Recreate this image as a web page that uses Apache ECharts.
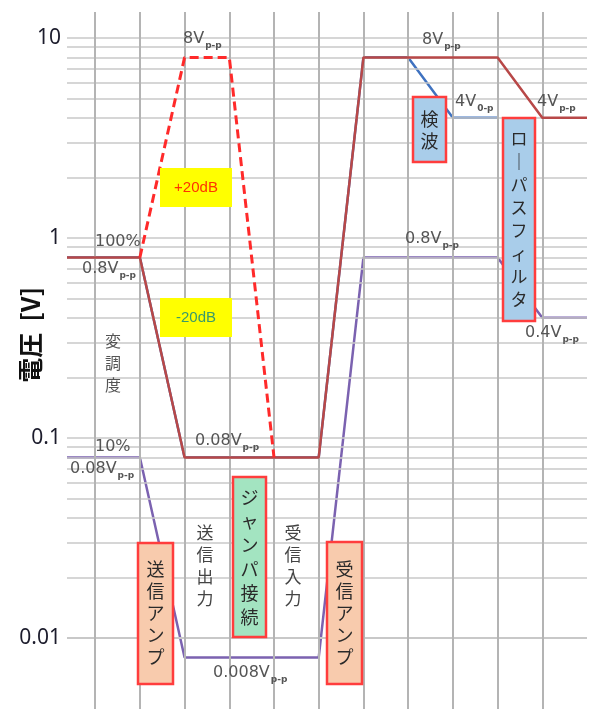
<!DOCTYPE html>
<html><head><meta charset="utf-8">
<script src="https://cdn.jsdelivr.net/npm/echarts@6/dist/echarts.min.js"></script>
<style>html,body{margin:0;padding:0;background:#fff}#c{width:589px;height:709px}</style>
</head><body><div id="c"></div>
<script>
// ---- data ----
const xMin = 0.37, xMax = 12;
const yMin = 0.00442, yMax = 13.5;
const stageX = [1, 2, 3, 4, 5, 6, 7, 8, 9, 10, 11];
const yTickLabels = ['0.01', '0.1', '1', '10'];
const gridYValues = [0.005, 0.006, 0.007, 0.008, 0.009, 0.01, 0.02, 0.03, 0.04, 0.05, 0.06, 0.07, 0.08, 0.09,
  0.1, 0.2, 0.3, 0.4, 0.5, 0.6, 0.7, 0.8, 0.9, 1, 2, 3, 4, 5, 6, 7, 8, 9, 10];
const redX = [0.37, 2, 3, 6, 7, 10, 11, 12];
const redY = [0.8, 0.8, 0.08, 0.08, 8, 8, 4, 4];
const purpleX = [0.37, 2, 3, 6, 7, 10, 11, 12];
const purpleY = [0.08, 0.08, 0.008, 0.008, 0.8, 0.8, 0.4, 0.4];
const blueX = [0.37, 2, 3, 6, 7, 8, 9, 10];
const blueY = [0.8, 0.8, 0.08, 0.08, 8, 8, 4, 4];
const dashX = [2, 3, 4, 5];
const dashY = [0.8, 8, 8, 0.08];

const zip = (xs, ys) => xs.map((x, i) => [x, ys[i]]);

const ctx = document.createElement('canvas').getContext('2d');
function textW(t, font) { ctx.font = font; return ctx.measureText(t).width; }

const LF = '16px "DejaVu Sans"';
const SF = 'bold 9px "DejaVu Sans"';
const LC = '#555';
function vlabel(x, cy, main, sub) {
  const els = [{ type: 'text', z: 50, style: { text: main, x: x, y: cy, font: LF, fill: LC, textAlign: 'left', textVerticalAlign: 'middle', align: 'left', verticalAlign: 'middle' } }];
  if (sub) {
    const w = textW(main, LF);
    els.push({ type: 'text', z: 50, style: { text: sub, x: x + w + 1, y: cy + 7, font: SF, fill: LC, textAlign: 'left', textVerticalAlign: 'middle', align: 'left', verticalAlign: 'middle' } });
  }
  return els;
}
const JP = '"Noto Sans CJK JP"';
function vtext(cx, cy, str, size, lh, color, weight) {
  return { type: 'text', z: 50, style: { text: str.split('').join('\n'), x: cx, y: cy, font: (weight || 'normal') + ' ' + size + 'px ' + JP, lineHeight: lh, fill: color, textAlign: 'center', textVerticalAlign: 'middle', align: 'center', verticalAlign: 'middle' } };
}
function box(x, y, w, h, fill, stroke) {
  return { type: 'rect', z: 40, shape: { x: x, y: y, width: w, height: h }, style: { fill: fill, stroke: stroke, lineWidth: stroke ? 2.5 : 0 } };
}
const ORANGE = '#f8cbad', GREEN = '#a3e4c1', BLUE = '#a9cdea', RED = '#ff3d3d';

const graphics = [].concat(
  [{ type: 'text', z: 50, x: 30, y: 335, rotation: Math.PI / 2, style: { text: '電圧  [V]', x: 0, y: 0, font: 'bold 25px ' + JP, fill: '#111', textAlign: 'center', textVerticalAlign: 'middle', align: 'center', verticalAlign: 'middle' } }],
  vlabel(183, 39, '8V', 'p-p'),
  vlabel(95, 242, '100%'),
  vlabel(82, 269, '0.8V', 'p-p'),
  vlabel(95, 447, '10%'),
  vlabel(70, 469, '0.08V', 'p-p'),
  vlabel(195, 441, '0.08V', 'p-p'),
  vlabel(213, 673, '0.008V', 'p-p'),
  vlabel(422, 40, '8V', 'p-p'),
  vlabel(455, 102, '4V', '0-p'),
  vlabel(537, 102, '4V', 'p-p'),
  vlabel(405, 239, '0.8V', 'p-p'),
  vlabel(525, 333, '0.4V', 'p-p'),
  [
    box(160, 168, 72, 39, '#ffff00'),
    { type: 'text', z: 50, style: { text: '+20dB', x: 196, y: 188, font: '15px "Liberation Sans"', fill: '#ff3300', textAlign: 'center', textVerticalAlign: 'middle', align: 'center', verticalAlign: 'middle' } },
    box(160, 298, 72, 39, '#ffff00'),
    { type: 'text', z: 50, style: { text: '-20dB', x: 196, y: 318, font: '15px "Liberation Sans"', fill: '#3a9a6a', textAlign: 'center', textVerticalAlign: 'middle', align: 'center', verticalAlign: 'middle' } },
    vtext(113, 363, '変調度', 16, 22, '#555'),
    vtext(205, 566, '送信出力', 17, 22, '#444'),
    vtext(293, 566, '受信入力', 17, 22, '#444'),
    box(138, 543, 35, 141, ORANGE, RED),
    vtext(155.5, 613, '送信アンプ', 18, 22, '#2a2a2a'),
    box(233, 477, 33, 160, GREEN, RED),
    vtext(249.5, 557, 'ジャンパ接続', 18, 24, '#2a2a2a'),
    box(327, 542, 35, 142, ORANGE, RED),
    vtext(344.5, 613, '受信アンプ', 18, 22, '#2a2a2a'),
    box(413, 97, 33, 65, BLUE, RED),
    vtext(429.5, 130, '検波', 18, 22, '#2a2a2a'),
    box(503, 118, 32, 203, BLUE, RED),
    vtext(519, 219, 'ロ｜パスフィルタ', 17, 23, '#2a2a2a')
  ]
);

const chart = echarts.init(document.getElementById('c'), null, { renderer: 'canvas' });
const lineBase = { type: 'line', symbol: 'none', animation: false, silent: true };
chart.setOption({
  animation: false,
  grid: { left: 67, right: 2, top: 12, bottom: 0, containLabel: false },
  xAxis: { type: 'value', min: xMin, max: xMax, axisLine: { show: false }, axisTick: { show: false }, axisLabel: { show: false }, splitLine: { show: false } },
  yAxis: {
    type: 'log', logBase: 10, min: yMin, max: yMax,
    axisLine: { show: false }, axisTick: { show: false }, splitLine: { show: false },
    axisLabel: {
      showMinLabel: false, showMaxLabel: false, margin: 6, color: '#1c1c2c', fontSize: 21, fontFamily: 'Noto Sans',
      formatter: v => { const m = yTickLabels.find(l => Math.abs(parseFloat(l) - v) / v < 1e-6); return m || ''; }
    }
  },
  series: [
    Object.assign({}, lineBase, {
      name: 'grid', data: [], z: 1,
      markLine: {
        silent: true, symbol: ['none', 'none'], label: { show: false }, animation: false,
        data: gridYValues.map(v => ({ yAxis: v, lineStyle: { color: '#c8c8c8', width: 1.6, type: 'solid' } }))
          .concat(stageX.map(v => ({ xAxis: v, lineStyle: { color: '#b4b4b4', width: 2, type: 'solid' } })))
      }
    }),
    Object.assign({}, lineBase, { name: 'purple', z: 3, data: zip(purpleX, purpleY), lineStyle: { color: '#7b62b0', width: 2.5 } }),
    Object.assign({}, lineBase, { name: 'blue', z: 4, data: zip(blueX, blueY), lineStyle: { color: '#3f72c0', width: 2.5 } }),
    Object.assign({}, lineBase, { name: 'red', z: 5, data: zip(redX, redY), lineStyle: { color: '#b84848', width: 2.5 } }),
    Object.assign({}, lineBase, { name: 'dash', z: 6, data: zip(dashX, dashY), lineStyle: { color: '#ff2a2a', width: 3, type: [9, 5] } })
  ],
  graphic: graphics
});
</script>
</body></html>
